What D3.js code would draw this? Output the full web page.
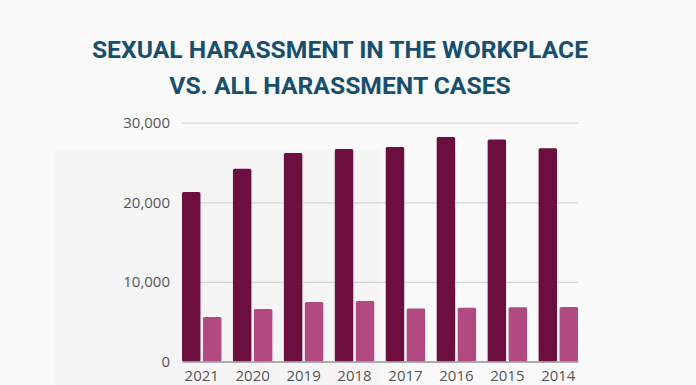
<!DOCTYPE html>
<html>
<head>
<meta charset="utf-8">
<script src="https://cdn.jsdelivr.net/npm/d3@7"></script>
<style>
  html, body { margin: 0; padding: 0; background: #f9f9f9; }
  svg { display: block; }
</style>
</head>
<body>
<svg id="chart" width="696" height="385"></svg>
<script>
// data
var years = ["2021", "2020", "2019", "2018", "2017", "2016", "2015", "2014"];
var allCases = [21300, 24200, 26200, 26700, 26950, 28200, 27880, 26800];
var sexualCases = [5580, 6590, 7480, 7600, 6660, 6740, 6810, 6850];
var yTicks = [0, 10000, 20000, 30000];
var titleLines = ["SEXUAL HARASSMENT IN THE WORKPLACE", "VS. ALL HARASSMENT CASES"];

var svg = d3.select("#chart");
var width = 696, height = 385;

// soft grey panel behind the left part of the chart
svg.append("rect")
  .attr("x", 53).attr("y", 150)
  .attr("width", 327).attr("height", height - 150)
  .attr("fill", "#f5f5f5");

// title
svg.append("g").selectAll("text")
  .data(titleLines)
  .join("text")
  .attr("x", 340)
  .attr("y", (d, i) => 58 + i * 36)
  .attr("text-anchor", "middle")
  .attr("font-family", "Roboto, sans-serif")
  .attr("font-weight", "bold")
  .attr("font-size", 24.7)
  .attr("fill", "#174f6d")
  .text(d => d);

// scales
var x = d3.scaleBand()
  .domain(years)
  .range([182, 578])
  .paddingInner(0.226)
  .paddingOuter(0);

var x1 = d3.scaleBand()
  .domain(["all", "sexual"])
  .range([0, x.bandwidth()])
  .paddingInner(0.12);

var y = d3.scaleLinear()
  .domain([0, 30000])
  .range([361.5, 122.7]);

// gridlines + y labels
var yAxis = d3.axisLeft(y)
  .tickValues(yTicks)
  .tickSize(-(578 - 182))
  .tickPadding(12)
  .tickFormat(d3.format(","));

var gy = svg.append("g")
  .attr("transform", "translate(182,0)")
  .call(yAxis);
gy.select(".domain").remove();
gy.selectAll(".tick line")
  .attr("stroke", "#d6d6d6")
  .attr("stroke-width", 1.2);
gy.selectAll(".tick text")
  .attr("font-family", "'Open Sans', sans-serif")
  .attr("font-size", 15)
  .attr("fill", "#555");

// bars
var groups = svg.append("g").selectAll("g")
  .data(years)
  .join("g")
  .attr("transform", d => "translate(" + x(d) + ",0)");

groups.append("rect")
  .attr("x", x1("all"))
  .attr("y", (d, i) => y(allCases[i]))
  .attr("width", x1.bandwidth())
  .attr("height", (d, i) => y(0) - y(allCases[i]))
  .attr("rx", 1.5)
  .attr("fill", "#6c0f3e");

groups.append("rect")
  .attr("x", x1("sexual"))
  .attr("y", (d, i) => y(sexualCases[i]))
  .attr("width", x1.bandwidth())
  .attr("height", (d, i) => y(0) - y(sexualCases[i]))
  .attr("rx", 1.5)
  .attr("fill", "#b04a80");

// x axis
var xAxis = d3.axisBottom(x).tickSize(0).tickPadding(9);
var gx = svg.append("g")
  .attr("transform", "translate(0," + y(0) + ")")
  .call(xAxis);
gx.select(".domain")
  .attr("stroke", "#999")
  .attr("stroke-width", 1.5);
gx.selectAll(".tick text")
  .attr("font-family", "'Open Sans', sans-serif")
  .attr("font-size", 15)
  .attr("fill", "#555");
</script>
</body>
</html>
